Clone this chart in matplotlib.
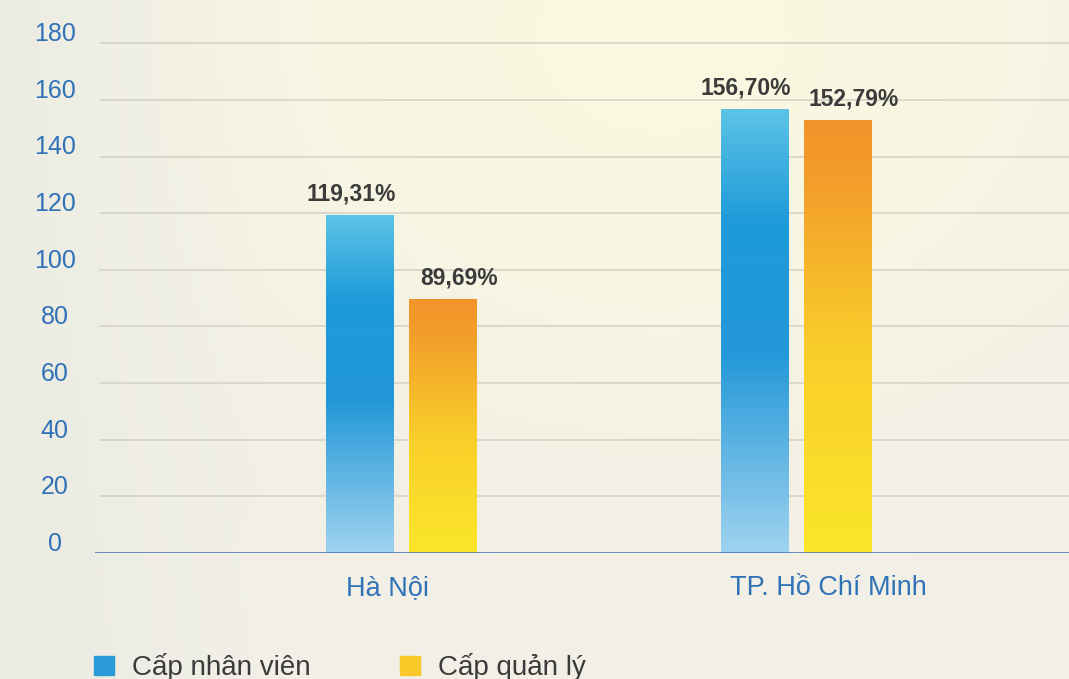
import numpy as np
import matplotlib
matplotlib.use("Agg")
import matplotlib.pyplot as plt
from matplotlib.colors import LinearSegmentedColormap
from matplotlib.patches import Rectangle
from matplotlib.transforms import offset_copy

# Data
categories = ["Hà Nội", "TP. Hồ Chí Minh"]
series_names = ["Cấp nhân viên", "Cấp quản lý"]
staff_values = [119.31, 156.70]
manager_values = [89.69, 152.79]
y_ticks = [0, 20, 40, 60, 80, 100, 120, 140, 160, 180]

plt.rcParams["font.family"] = ["Liberation Sans", "DejaVu Sans"]

W, H = 1069, 679
fig = plt.figure(figsize=(W / 100, H / 100), dpi=100)

# Soft warm background with a brighter glow near the top centre
bg_ax = fig.add_axes([0, 0, 1, 1])
bg_ax.set_axis_off()
yy, xx = np.mgrid[0:1:200j, 0:1:300j]
glow = np.exp(-(((xx - 0.62) / 0.45) ** 2 + ((yy - 0.05) / 0.55) ** 2))
left_shade = np.clip(1 - xx / 0.25, 0, 1)
base = np.array([0.945, 0.937, 0.905])
warm = np.array([0.985, 0.975, 0.880])
cool = np.array([0.905, 0.910, 0.880])
img = base[None, None, :] * (1 - glow[..., None]) + warm[None, None, :] * glow[..., None]
img = img * (1 - 0.5 * left_shade[..., None]) + cool[None, None, :] * 0.5 * left_shade[..., None]
bg_ax.imshow(img, extent=[0, 1, 0, 1], aspect="auto", origin="upper")
bg_ax.set_xlim(0, 1)
bg_ax.set_ylim(0, 1)

ax = fig.add_axes([95 / W, 126 / H, 1 - 95 / W, (553 - 5) / H])
ax.patch.set_alpha(0)

width = 0.172
offset = 0.105
x = np.arange(len(categories))

blue_cmap = LinearSegmentedColormap.from_list(
    "blue_grad", [(0.0, "#9fd3ef"), (0.45, "#2398d8"), (0.75, "#1f9bd9"), (1.0, "#5cc3e6")])
orange_cmap = LinearSegmentedColormap.from_list(
    "orange_grad", [(0.0, "#fbe62a"), (0.45, "#f9cf2a"), (0.85, "#f39f2a"), (1.0, "#f2932b")])

ax.set_xlim(-0.775, 1.69)
ax.set_ylim(0, 193.5)

# (values, bar shift, colormap, horizontal nudge of the value label in points)
series = [(staff_values, -offset, blue_cmap, -6.5), (manager_values, offset, orange_cmap, 11.5)]
for vals, dx, cmap, nudge in series:
    bars = ax.bar(x + dx, vals, width=width, color="none", edgecolor="none", zorder=3)
    label_tr = offset_copy(ax.transData, fig=fig, x=nudge, y=0, units="points")
    for b, v in zip(bars, vals):
        x0, w_, h_ = b.get_x(), b.get_width(), b.get_height()
        grad = np.linspace(0, 1, 256)[:, None]
        im = ax.imshow(grad, cmap=cmap, extent=[x0, x0 + w_, 0, h_], origin="lower",
                       aspect="auto", zorder=3)
        im.set_clip_path(b)
        ax.text(x0 + w_ / 2, h_ + 3.5, f"{v:.2f}%".replace(".", ","), ha="center", va="bottom",
                fontsize=16.5, color="#3b3b3b", fontweight="bold", zorder=4,
                transform=label_tr)

ax.set_xlim(-0.775, 1.69)
ax.set_ylim(0, 193.5)
ax.set_xticks([])
ax.set_yticks([])

# Value-axis labels sit slightly above their grid lines
ytick_tr = offset_copy(ax.get_yaxis_transform(), fig=fig, x=-29, y=6.5, units="points")
for t in y_ticks:
    ax.text(0, t, str(t), transform=ytick_tr, ha="center", va="center",
            fontsize=18, color="#2f72b6", clip_on=False)

# Category names under the baseline
cat_nudges = [-10, 23]
for xi, name, nd in zip(x, categories, cat_nudges):
    tr = offset_copy(ax.get_xaxis_transform(), fig=fig, x=nd, y=-25, units="points")
    ax.text(xi, 0, name, transform=tr, ha="center", va="center",
            fontsize=19.5, color="#2f72b6")

for t in y_ticks[1:]:
    ax.axhline(t, xmin=5 / (W - 95), color="#d3d1c6", lw=1.1, zorder=1)
ax.axhline(0, color="#3f6fb5", lw=1.8, zorder=5)

for s in ax.spines.values():
    s.set_visible(False)

# Legend along the bottom edge
legend_items = [(94, series_names[0], "#2a9bd8"), (400, series_names[1], "#f9c92a")]
for px, label, col in legend_items:
    fig.patches.append(Rectangle((px / W, (679 - 675) / H), 20 / W, 19 / H,
                                 transform=fig.transFigure, color=col, zorder=5))
    fig.text((px + 38) / W, (679 - 667) / H, label, fontsize=20, color="#3b3b3b",
             va="center", ha="left")

fig.savefig("out.png", dpi=100)
